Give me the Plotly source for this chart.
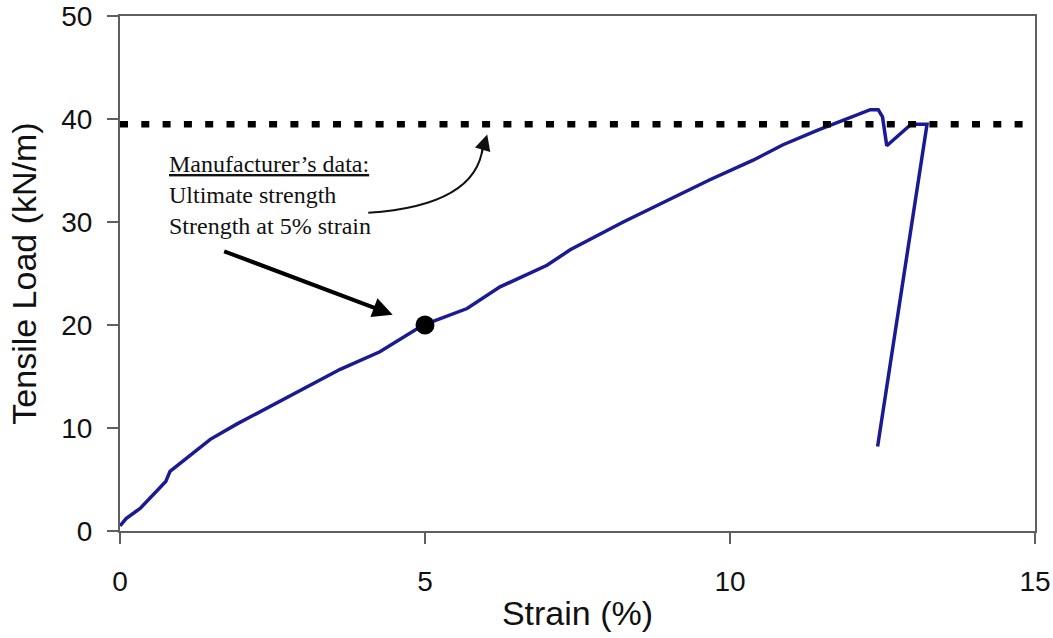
import plotly.graph_objects as go

# Measured load–strain curve of the geosynthetic specimen
strain = [0.0, 0.10, 0.33, 0.60, 0.75, 0.82, 1.10, 1.48, 1.92, 2.46, 3.00, 3.61,
          4.26, 4.97, 5.69, 6.23, 7.00, 7.38, 8.25, 8.97, 9.67, 10.38, 10.87,
          11.43, 11.97, 12.30, 12.43, 12.50, 12.57, 12.97, 13.23, 12.42]
load = [0.5, 1.2, 2.2, 3.9, 4.8, 5.8, 7.1, 8.9, 10.4, 12.1, 13.8, 15.7,
        17.4, 20.0, 21.6, 23.7, 25.8, 27.3, 30.0, 32.1, 34.1, 36.0, 37.5,
        38.9, 40.1, 40.9, 40.9, 40.2, 37.4, 39.5, 39.5, 8.2]

# Manufacturer's data
ultimate_strength = 39.5
ult_x = [0, 15]
strain_5pct = [5.0]
strength_5pct = [20.0]

x_ticks = [0, 5, 10, 15]
y_ticks = [0, 10, 20, 30, 40, 50]

curve_color = "#1a1a94"
axis_color = "#5f5f5f"
tick_font = dict(family="Liberation Sans, Arial, sans-serif", size=28, color="#111111")
title_font = dict(family="Liberation Sans, Arial, sans-serif", size=34, color="#111111")
note_font = dict(family="Liberation Serif, Times New Roman, serif", size=24, color="#111111")

fig = go.Figure()

fig.add_trace(go.Scatter(
    x=strain, y=load, mode="lines",
    line=dict(color=curve_color, width=3.5),
    hoverinfo="skip", showlegend=False,
))

fig.add_trace(go.Scatter(
    x=ult_x, y=[ultimate_strength] * len(ult_x), mode="lines",
    line=dict(color="#000000", width=6.5, dash="8px,13.3px"),
    hoverinfo="skip", showlegend=False,
))

fig.add_trace(go.Scatter(
    x=strain_5pct, y=strength_5pct, mode="markers",
    marker=dict(color="#000000", size=19),
    hoverinfo="skip", showlegend=False,
))

# Note text
fig.add_annotation(
    x=0.77, y=32.6, xref="x", yref="y",
    xanchor="left", yanchor="middle", align="left",
    text="<u>Manufacturer\u2019s data:</u><br>Ultimate strength<br>Strength at 5% strain",
    showarrow=False, font=note_font,
)

# Curved leader from the note to the ultimate-strength line
fig.add_shape(
    type="path", xref="x", yref="y",
    path="M 4.07 30.9 Q 5.85 31.6 5.95 37.4",
    line=dict(color="#111111", width=2),
)
fig.add_annotation(
    x=6.02, y=38.5, xref="x", yref="y",
    ax=-6, ay=20, axref="pixel", ayref="pixel",
    showarrow=True, arrowhead=2, arrowsize=1.6, arrowwidth=2,
    arrowcolor="#111111", text="",
)

# Straight arrow pointing at the 5 % strain point
fig.add_annotation(
    x=4.47, y=21.0, xref="x", yref="y",
    ax=-170, ay=-64,
    showarrow=True, arrowhead=2, arrowsize=1.0, arrowwidth=4,
    arrowcolor="#000000", text="",
)

fig.update_xaxes(
    range=[0, 15], tickvals=x_ticks, ticktext=[str(v) for v in x_ticks],
    showgrid=False, zeroline=False, automargin=False,
    showline=True, linecolor=axis_color, linewidth=2, mirror=True,
    ticks="outside", ticklen=11, tickwidth=2, tickcolor=axis_color,
    tickfont=tick_font, ticklabelstandoff=13, ticklabeloverflow="allow",
    title=dict(text="Strain (%)", font=title_font, standoff=6),
)
fig.update_yaxes(
    range=[0, 50], tickvals=y_ticks, ticktext=[str(v) for v in y_ticks],
    showgrid=False, zeroline=False, automargin=False,
    showline=True, linecolor=axis_color, linewidth=2, mirror=True,
    ticks="outside", ticklen=11, tickwidth=2, tickcolor=axis_color,
    tickfont=tick_font, ticklabelstandoff=9, ticklabeloverflow="allow",
    title=dict(text="Tensile Load (kN/m)", font=title_font, standoff=14),
)

fig.update_layout(
    width=1053, height=638,
    margin=dict(l=120, r=18, t=16, b=107),
    paper_bgcolor="white", plot_bgcolor="white",
    showlegend=False,
)

fig.write_html("out.html")
